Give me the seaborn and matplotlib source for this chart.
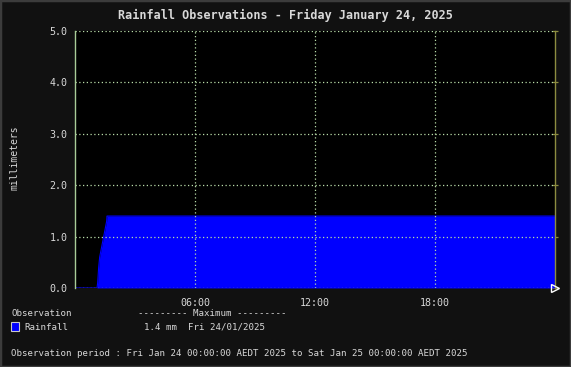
import matplotlib
matplotlib.use("Agg")
import matplotlib.pyplot as plt
import seaborn as sns
import pandas as pd
from matplotlib.patches import Rectangle

# ---- data ----
hours = [0.0, 1.10, 1.133, 1.183, 1.233, 1.283, 1.333, 1.383, 1.433, 1.483, 1.533, 1.583, 1.60, 24.0]
rain_mm = [0.0, 0.0, 0.1, 0.4, 0.6, 0.7, 0.8, 0.9, 1.0, 1.1, 1.2, 1.3, 1.4, 1.4]
x_ticks = [6, 12, 18]
x_tick_labels = ["06:00", "12:00", "18:00"]
y_ticks = [0, 1, 2, 3, 4, 5]
y_tick_labels = ["0.0", "1.0", "2.0", "3.0", "4.0", "5.0"]
title = "Rainfall Observations - Friday January 24, 2025"
series_name = "Rainfall"
max_text = "1.4 mm  Fri 24/01/2025"
period_text = "Observation period : Fri Jan 24 00:00:00 AEDT 2025 to Sat Jan 25 00:00:00 AEDT 2025"

df = pd.DataFrame({"hour": hours, "mm": rain_mm})

sns.set_theme(style="dark")
plt.rcParams["font.family"] = ["DejaVu Sans Mono", "DejaVu Sans"]

TXT = "#d8d8d8"
GRID = "#b8dca8"
fig = plt.figure(figsize=(5.71, 3.67), dpi=100, facecolor="#111111")
ax = fig.add_axes([75 / 571, 1 - 288 / 367, 480 / 571, 257 / 367])
ax.set_facecolor("black")

ax.fill_between(df["hour"], 0, df["mm"], color="#0000ff", linewidth=0, zorder=2)
sns.lineplot(data=df, x="hour", y="mm", ax=ax, color="#0000ff", linewidth=0.8, zorder=2)

ax.set_xlim(0, 24)
ax.set_ylim(0, 5)
ax.set_xticks(x_ticks)
ax.set_xticklabels(x_tick_labels)
ax.set_yticks(y_ticks)
ax.set_yticklabels(y_tick_labels)
ax.set_xlabel("")
ax.set_ylabel("")

# grid lines (dotted)
for y in y_ticks:
    ax.axhline(y, color=GRID, linestyle=(0, (1, 2)), linewidth=0.9, zorder=3)
for x in x_ticks:
    ax.axvline(x, color=GRID, linestyle=(0, (1, 2)), linewidth=0.9, zorder=3)
ax.grid(False)

for s in ["top", "bottom"]:
    ax.spines[s].set_visible(False)
ax.spines["left"].set_color("#a8cc98")
ax.spines["left"].set_linewidth(1.0)
ax.spines["right"].set_color("#8c8c40")
ax.spines["right"].set_linewidth(1.0)
ax.spines["left"].set_zorder(4)

ax.tick_params(axis="both", colors=TXT, labelsize=7.2, direction="inout", length=5, width=0.9)
ax.tick_params(axis="y", color="#a8cc98", pad=3)
ax.tick_params(axis="x", color=GRID, pad=5)
ax.tick_params(axis="y", right=True, labelright=False, color="#8c8c40")

# arrow at end of x axis
ax.plot([1.0], [0.0], transform=ax.transAxes, marker=">", markersize=6,
        markerfacecolor="none", markeredgecolor="white", markeredgewidth=1.0,
        clip_on=False, zorder=5, linestyle="none")

fig.text(14 / 571, 1 - 158 / 367, "millimeters", color=TXT, fontsize=7, rotation=90,
         ha="center", va="center")

fig.text(0.5, 1 - 15 / 367, title, color=TXT, fontsize=8.5, fontweight="bold",
         ha="center", va="center")

# legend-like text block
fig.text(11 / 571, 1 - 314 / 367, "Observation", color=TXT, fontsize=6.6, va="center", ha="left")
fig.text(138 / 571, 1 - 314 / 367, "--------- Maximum ---------", color=TXT, fontsize=6.6,
         va="center", ha="left")
fig.add_artist(Rectangle((11 / 571, 1 - 331 / 367), 8 / 571, 9 / 367, transform=fig.transFigure,
                         facecolor="#0000ff", edgecolor="#c8c8c8", linewidth=0.8))
fig.text(24 / 571, 1 - 327 / 367, series_name, color=TXT, fontsize=6.6, va="center", ha="left")
fig.text(144 / 571, 1 - 327 / 367, max_text, color=TXT, fontsize=6.6, va="center", ha="left")
fig.text(11 / 571, 1 - 354 / 367, period_text, color=TXT, fontsize=6.6, va="center", ha="left")

# outer border
fig.add_artist(Rectangle((0, 0), 1, 1, transform=fig.transFigure, facecolor="none",
                         edgecolor="#3c3c3c", linewidth=2.5))

fig.savefig("out.png", dpi=100, facecolor=fig.get_facecolor())
